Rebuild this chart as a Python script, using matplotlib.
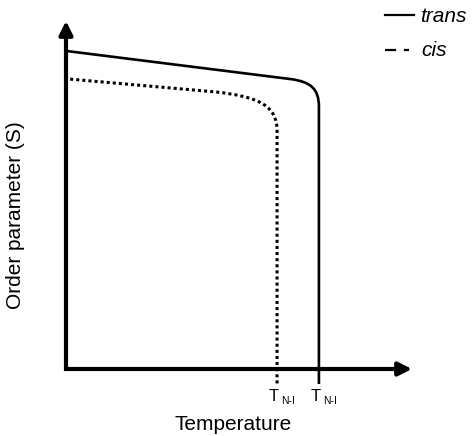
import matplotlib
matplotlib.use("Agg")
import matplotlib.pyplot as plt
from matplotlib.path import Path
from matplotlib.patches import PathPatch
from matplotlib.lines import Line2D

plt.rcParams['font.family'] = ['Liberation Sans', 'DejaVu Sans']

# schematic curves, (temperature, S) key points
# each curve: straight part, cubic corner (2 control points + end), drop to T_N-I
trans_pts = [(0.0, 0.914), (6.50, 0.833), (7.08, 0.825), (7.31, 0.805),
             (7.31, 0.753), (7.31, -0.043)]
cis_pts = [(0.12, 0.833), (4.34, 0.796), (5.64, 0.782), (6.10, 0.753),
           (6.10, 0.684), (6.10, -0.043)]
codes = [Path.MOVETO, Path.LINETO, Path.CURVE4, Path.CURVE4, Path.CURVE4, Path.LINETO]

t_trans = 7.31
t_cis = 6.10
tick_label = "T"
tick_sub = "N-I"

fig = plt.figure(figsize=(4.72, 4.36), dpi=100)
ax = fig.add_axes([66 / 472, 67 / 436, 346 / 472, 348 / 436])
ax.set_xlim(0, 10)
ax.set_ylim(0, 1)
ax.axis('off')

ax.add_patch(PathPatch(Path(trans_pts, codes), fill=False, lw=1.9, color='k',
                       capstyle='butt', clip_on=False))
ax.add_patch(PathPatch(Path(cis_pts, codes), fill=False, lw=2.2, color='k',
                       linestyle=(0, (1, 1)), capstyle='butt', clip_on=False))

# axes with arrows
ax.plot([0, 0, 9.75], [0.97, 0, 0], color='k', lw=3, solid_joinstyle='miter',
        solid_capstyle='butt', clip_on=False)
ax.annotate('', xy=(10, 0), xytext=(9.5, 0),
            arrowprops=dict(arrowstyle='-|>', lw=3, color='k', mutation_scale=20,
                            shrinkA=0, shrinkB=0), annotation_clip=False)
ax.annotate('', xy=(0, 1), xytext=(0, 0.95),
            arrowprops=dict(arrowstyle='-|>', lw=3, color='k', mutation_scale=20,
                            shrinkA=0, shrinkB=0), annotation_clip=False)

# T_N-I labels
for t in [t_cis, t_trans]:
    ax.annotate(tick_label, xy=(t, 0), xytext=(-6, -23), textcoords='offset points',
                fontsize=12, ha='left', va='baseline', annotation_clip=False)
    ax.annotate(tick_sub, xy=(t, 0), xytext=(3, -25), textcoords='offset points',
                fontsize=7.5, ha='left', va='baseline', annotation_clip=False)

fig.text(233 / 472, 1 - 430 / 436, "Temperature", fontsize=15, ha='center', va='baseline')
fig.text(16 / 472, 1 - 215 / 436, "Order parameter (S)", fontsize=15, rotation=90,
         ha='center', va='center')

# legend
fig.add_artist(Line2D([385 / 472, 414 / 472], [1 - 15 / 436] * 2, color='k', lw=1.6))
fig.add_artist(Line2D([385 / 472, 409 / 472], [1 - 50 / 436] * 2, color='k', lw=1.6,
                      linestyle=(0, (5, 3.5))))
fig.text(420 / 472, 1 - 17 / 436, "trans", fontsize=15, style='italic', va='center')
fig.text(421 / 472, 1 - 50 / 436, "cis", fontsize=15, style='italic', va='center')

fig.savefig("out.png", dpi=100)
